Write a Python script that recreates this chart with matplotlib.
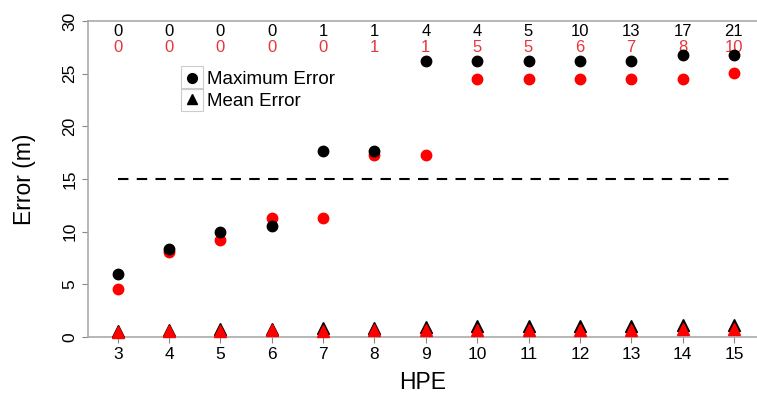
import matplotlib
matplotlib.use("Agg")
import matplotlib.pyplot as plt
from matplotlib.lines import Line2D
from matplotlib.patches import Rectangle

plt.rcParams['font.family'] = ['Liberation Sans', 'DejaVu Sans']

hpe = [3, 4, 5, 6, 7, 8, 9, 10, 11, 12, 13, 14, 15]
max_black = [6.0, 8.4, 10.0, 10.5, 17.7, 17.7, 26.2, 26.2, 26.2, 26.2, 26.2, 26.8, 26.8]
max_red = [4.6, 8.1, 9.2, 11.3, 11.3, 17.3, 17.3, 24.5, 24.5, 24.5, 24.5, 24.5, 25.1]
mean_black = [0.6, 0.7, 0.75, 0.8, 0.9, 0.9, 0.95, 1.0, 1.0, 1.0, 1.0, 1.1, 1.1]
mean_red = [0.45, 0.55, 0.6, 0.65, 0.6, 0.65, 0.7, 0.7, 0.7, 0.7, 0.7, 0.75, 0.8]
count_black = [0, 0, 0, 0, 1, 1, 4, 4, 5, 10, 13, 17, 21]
count_red = [0, 0, 0, 0, 0, 1, 1, 5, 5, 6, 7, 8, 10]
threshold = 15

W, H = 757, 393
fig = plt.figure(figsize=(W / 100, H / 100), dpi=100)
ax = fig.add_axes([0.1162, 0.1425, 0.8838, 0.8041])

ax.hlines(threshold, hpe[0], hpe[-1], colors='black', linestyles=(0, (5, 4)), lw=1.5)

ax.plot(hpe, max_red, 'o', color='#ff0000', ms=7.5, mec='#ff0000', zorder=3)
ax.plot(hpe, max_black, 'o', color='black', ms=7.5, zorder=4)
ax.plot(hpe, mean_black, '^', color='black', ms=8.5, zorder=3, clip_on=False)
ax.plot(hpe, mean_red, '^', color='#ff0000', ms=8, zorder=4, clip_on=False)

for x, cb, cr in zip(hpe, count_black, count_red):
    ax.text(x, 29.0, str(cb), ha='center', va='center', fontsize=12, color='black')
    ax.text(x, 27.45, str(cr), ha='center', va='center', fontsize=12, color='#e8343a')

ax.set_xlim(2.42, 15.45)
ax.set_ylim(0, 30)
ax.set_xticks(hpe)
ax.set_yticks([0, 5, 10, 15, 20, 25, 30])
ax.tick_params(axis='both', colors='#888888', labelcolor='black', labelsize=12.5, length=4)
for lab in ax.get_yticklabels():
    lab.set_rotation(90)
    lab.set_va('center')

for s in ['left', 'bottom', 'top']:
    ax.spines[s].set_color('#aaaaaa')
    ax.spines[s].set_linewidth(1.2)
ax.spines['right'].set_visible(False)

ax.set_xlabel('HPE', fontsize=16.5, labelpad=6)
ax.set_ylabel('Error (m)', fontsize=16.5, labelpad=19)

handles = [Line2D([], [], marker='o', ls='none', color='black', ms=7),
           Line2D([], [], marker='^', ls='none', color='black', ms=7.5)]
leg = fig.legend(handles, ['Maximum Error', 'Mean Error'], loc='upper left',
                 bbox_to_anchor=(184 / W, 1 - 71 / H), frameon=False, fontsize=13.5,
                 handlelength=0.9, handletextpad=0.35, labelspacing=0.25, borderpad=0.0,
                 borderaxespad=0.0)

fig.canvas.draw()
renderer = fig.canvas.get_renderer()
# thin gray boxes around the legend markers
for h in leg.legend_handles:
    bb = h.get_window_extent(renderer)
    cx = (bb.x0 + bb.x1) / 2
    cy = (bb.y0 + bb.y1) / 2
    fig.patches.append(Rectangle(((cx - 11) / W, (cy - 11.5) / H), 22 / W, 23 / H,
                                 transform=fig.transFigure, fill=False, ec='#cccccc', lw=0.8))

fig.savefig('out.png', dpi=100)
